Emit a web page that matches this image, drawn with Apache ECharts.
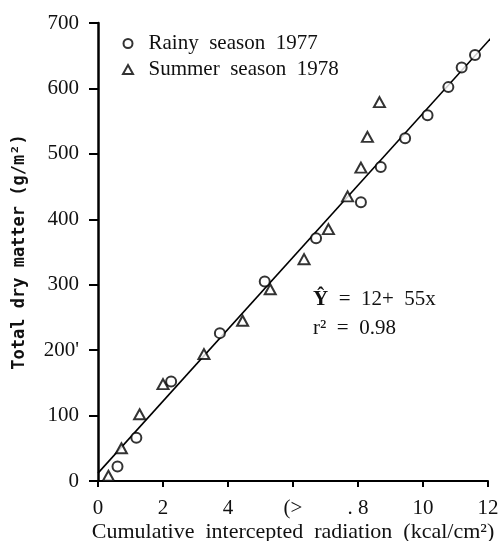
<!DOCTYPE html>
<html>
<head>
<meta charset="utf-8">
<script src="https://cdn.jsdelivr.net/npm/echarts@6/dist/echarts.min.js"></script>
<style>
  html, body { margin: 0; padding: 0; background: #fff; }
  #chart { width: 501px; height: 541px; }
</style>
</head>
<body>
<div id="chart"></div>
<script>
// Rainy season 1977: cumulative intercepted radiation vs total dry matter
const rainyX = [0.6, 1.18, 2.25, 3.75, 5.13, 6.71, 8.09, 8.70, 9.45, 10.14, 10.78, 11.19, 11.6];
const rainyY = [22, 66, 152, 226, 305, 371, 426, 480, 524, 559, 602, 632, 651];

// Summer season 1978
const summerX = [0.32, 0.72, 1.28, 2.0, 3.26, 4.45, 5.3, 6.34, 7.09, 7.68, 8.09, 8.29, 8.66];
const summerY = [8, 50, 102, 148, 194, 245, 293, 339, 385, 435, 479, 526, 579];

// Fitted regression  Y = 12 + 55x
const fitIntercept = 12;
const fitSlope = 55;
const fitRangeX = [0, 12.1];

// Tick labels as printed
const xTickValues = [0, 2, 4, 6, 8, 10, 12];
const xTickLabels = ['0', '2', '4', '(>', '. 8', '10', '12'];
const yTickValues = [0, 100, 200, 300, 400, 500, 600, 700];
const yTickLabels = ['0', '100', "200'", '300', '400', '500', '600', '700'];

const serif = 'Liberation Serif';
const zip = (xs, ys) => xs.map((x, i) => [x, ys[i]]);
const fitData = fitRangeX.map(x => [x, fitIntercept + fitSlope * x]);

const chart = echarts.init(document.getElementById('chart'));
chart.setOption({
  animation: false,
  backgroundColor: '#fff',
  grid: { left: 98, right: 13, top: 23, bottom: 60, containLabel: false, outerBoundsMode: 'none' },
  legend: {
    orient: 'vertical',
    left: 117,
    top: 28,
    itemGap: 5,
    itemWidth: 10,
    itemHeight: 9,
    formatter: name => '  ' + name,
    textStyle: { fontFamily: serif, fontSize: 21, color: '#111' },
    data: [
      { name: 'Rainy  season  1977', icon: 'circle' },
      { name: 'Summer  season  1978', icon: 'triangle' }
    ]
  },
  xAxis: {
    type: 'value',
    min: 0, max: 12, interval: 2,
    name: 'Cumulative  intercepted  radiation  (kcal/cm²)',
    nameLocation: 'middle',
    nameGap: 40,
    nameMoveOverlap: false,
    nameTextStyle: { fontFamily: serif, fontSize: 22, color: '#111' },
    axisLine: { lineStyle: { color: '#000', width: 2 } },
    axisTick: { length: 6, lineStyle: { color: '#000', width: 2 } },
    axisLabel: {
      margin: 17,
      fontFamily: serif, fontSize: 21, color: '#111',
      formatter: v => xTickLabels[xTickValues.indexOf(v)] ?? ''
    },
    splitLine: { show: false }
  },
  yAxis: {
    type: 'value',
    min: 0, max: 700, interval: 100,
    name: 'Total dry matter (g/m²)',
    nameLocation: 'middle',
    nameGap: 70,
    nameMoveOverlap: false,
    nameRotate: 90,
    nameTextStyle: { fontFamily: 'DejaVu Sans Mono', fontWeight: 'bold', fontSize: 17, color: '#111' },
    axisLine: { show: true, lineStyle: { color: '#000', width: 2.5 } },
    axisTick: { show: true, length: 9, lineStyle: { color: '#000', width: 2 } },
    axisLabel: {
      margin: 19,
      fontFamily: serif, fontSize: 21, color: '#111',
      formatter: v => yTickLabels[yTickValues.indexOf(v)] ?? ''
    },
    splitLine: { show: false }
  },
  graphic: [
    {
      type: 'text', left: 313, top: 289,
      style: {
        text: '{b|Ŷ}  =  12+  55x',
        font: '21px "Liberation Serif"', fill: '#111',
        rich: { b: { fontFamily: serif, fontSize: 21, fontWeight: 'bold', fill: '#111' } }
      }
    },
    {
      type: 'text', left: 313, top: 318,
      style: { text: 'r²  =  0.98', font: '21px "Liberation Serif"', fill: '#111' }
    }
  ],
  series: [
    {
      name: 'Rainy  season  1977',
      type: 'scatter',
      symbol: 'circle',
      symbolSize: 10,
      itemStyle: { color: '#fff', borderColor: '#000', borderWidth: 2 },
      z: 3,
      data: zip(rainyX, rainyY)
    },
    {
      name: 'Summer  season  1978',
      type: 'scatter',
      symbol: 'triangle',
      symbolSize: [11, 10],
      itemStyle: { color: '#fff', borderColor: '#000', borderWidth: 2 },
      z: 3,
      data: zip(summerX, summerY)
    },
    {
      name: 'fit',
      type: 'line',
      data: fitData,
      symbol: 'none',
      lineStyle: { color: '#000', width: 1.6 },
      z: 2,
      silent: true
    }
  ]
});
</script>
</body>
</html>
